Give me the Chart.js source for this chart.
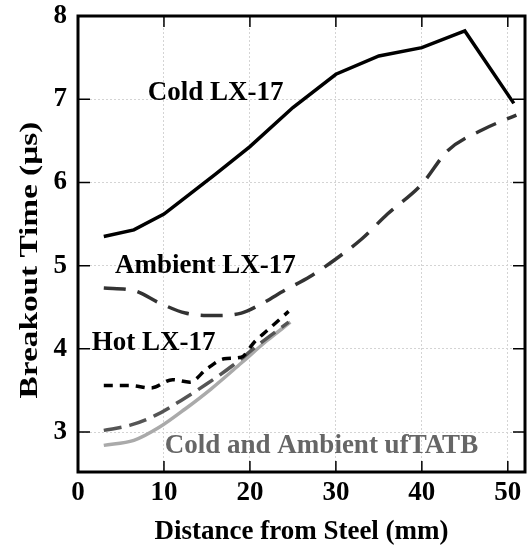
<!DOCTYPE html>
<html lang="en">
  <head>
    <meta charset="UTF-8" />
    <title>Breakout Time</title>
    <script src="https://cdn.jsdelivr.net/npm/chart.js"></script>
    <style>
      * {
        margin: 0;
        padding: 0;
        box-sizing: border-box;
      }
      body {
        background: white;
      }
      #wrap {
        width: 527px;
        height: 548px;
      }
    </style>
  </head>
  <body>
    <div id="wrap">
      <canvas id="breakoutChart" width="527" height="548"></canvas>
    </div>
    <script>
      // values (distance mm, time us)
      const coldLxX = [3, 6.5, 10, 13, 16, 20, 25, 30, 35, 40, 45, 50.7];
      const coldLxY = [5.35, 5.43, 5.62, 5.86, 6.1, 6.43, 6.9, 7.3, 7.52, 7.62, 7.82, 6.95];

      const ambientLxX = [3, 6.5, 9.5, 12.5, 16, 19, 21.5, 24, 27, 30, 33, 36, 40, 43, 47, 51];
      const ambientLxY = [4.73, 4.7, 4.55, 4.43, 4.4, 4.43, 4.55, 4.7, 4.87, 5.08, 5.32, 5.62, 5.98, 6.38, 6.63, 6.81];

      const hotLxX = [3, 6, 8.5, 11, 13, 15, 17, 19, 20.5, 22, 24.5];
      const hotLxY = [3.56, 3.56, 3.53, 3.63, 3.6, 3.76, 3.88, 3.9, 4.08, 4.22, 4.45];

      const ambientTatbX = [3, 6, 9, 12, 15, 18, 21, 24.5];
      const ambientTatbY = [3.02, 3.08, 3.2, 3.38, 3.58, 3.8, 4.05, 4.32];

      const coldTatbX = [3, 6.5, 9.5, 12.5, 15.5, 19, 22, 24.7];
      const coldTatbY = [2.84, 2.9, 3.06, 3.28, 3.52, 3.83, 4.1, 4.32];

      const xTicks = [0, 10, 20, 30, 40, 50];
      const yTicks = [3, 4, 5, 6, 7, 8];

      const yTitle = "Breakout Time (µs)";

      const serif = "'Liberation Serif', 'Times New Roman', serif";

      function pairs(xs, ys) {
        return xs.map((x, i) => ({ x: x, y: ys[i] }));
      }

      // text labels next to the curves
      const curveLabels = [
        { text: "Cold LX-17", x: 8.1, y: 7.08, color: "#000" },
        { text: "Ambient LX-17", x: 4.3, y: 4.99, color: "#000" },
        { text: "Hot LX-17", x: 1.6, y: 4.07, color: "#000" },
        { text: "Cold and Ambient ufTATB", x: 10.1, y: 2.83, color: "#666" },
      ];

      const framePlugin = {
        id: "frame",
        afterDraw(chart) {
          const { ctx, chartArea: a, scales } = chart;
          ctx.save();
          // inward ticks
          ctx.strokeStyle = "#000";
          ctx.lineWidth = 1.5;
          ctx.beginPath();
          scales.x.ticks.forEach((t) => {
            const px = scales.x.getPixelForValue(t.value);
            ctx.moveTo(px, a.bottom);
            ctx.lineTo(px, a.bottom - 11);
            ctx.moveTo(px, a.top);
            ctx.lineTo(px, a.top + 11);
          });
          scales.y.ticks.forEach((t) => {
            const py = scales.y.getPixelForValue(t.value);
            ctx.moveTo(a.left, py);
            ctx.lineTo(a.left + 12, py);
            ctx.moveTo(a.right, py);
            ctx.lineTo(a.right - 12, py);
          });
          ctx.stroke();
          // frame
          ctx.lineWidth = 3;
          ctx.strokeRect(a.left, a.top, a.right - a.left, a.bottom - a.top);

          ctx.font = "bold 27px " + serif;
          ctx.textBaseline = "middle";
          ctx.textAlign = "left";
          curveLabels.forEach((l) => {
            ctx.fillStyle = l.color;
            ctx.fillText(l.text, scales.x.getPixelForValue(l.x), scales.y.getPixelForValue(l.y));
          });

          // y title, stretched along its length like the original
          ctx.fillStyle = "#000";
          ctx.font = "bold 26px " + serif;
          ctx.textAlign = "center";
          ctx.translate(30, (a.top + a.bottom) / 2 + 16);
          ctx.rotate(-Math.PI / 2);
          ctx.scale(1.28, 1);
          ctx.fillText(yTitle, 0, 0);
          ctx.restore();
        },
      };

      const ctx = document.getElementById("breakoutChart").getContext("2d");

      new Chart(ctx, {
        type: "line",
        data: {
          datasets: [
            {
              label: "Cold LX-17",
              data: pairs(coldLxX, coldLxY),
              borderColor: "#000",
              borderWidth: 3.5,
              tension: 0,
            },
            {
              label: "Ambient LX-17",
              data: pairs(ambientLxX, ambientLxY),
              borderColor: "#333",
              borderWidth: 3.5,
              borderDash: [22, 12],
              cubicInterpolationMode: "monotone",
            },
            {
              label: "Hot LX-17",
              data: pairs(hotLxX, hotLxY),
              borderColor: "#000",
              borderWidth: 3.5,
              borderDash: [9, 7],
              cubicInterpolationMode: "monotone",
            },
            {
              label: "Ambient ufTATB",
              data: pairs(ambientTatbX, ambientTatbY),
              borderColor: "#555",
              borderWidth: 3.5,
              borderDash: [18, 8],
              cubicInterpolationMode: "monotone",
            },
            {
              label: "Cold ufTATB",
              data: pairs(coldTatbX, coldTatbY),
              borderColor: "#aaa",
              borderWidth: 3.5,
              cubicInterpolationMode: "monotone",
            },
          ],
        },
        options: {
          responsive: false,
          animation: false,
          layout: {
            padding: { left: 0, right: 2, top: 0, bottom: 0 },
          },
          elements: {
            point: { radius: 0 },
          },
          plugins: {
            legend: { display: false },
            tooltip: { enabled: false },
          },
          scales: {
            x: {
              type: "linear",
              min: 0,
              max: 52,
              afterBuildTicks: (s) => {
                s.ticks = xTicks.map((v) => ({ value: v }));
              },
              afterFit: (s) => {
                s.height = 76;
              },
              grid: { color: "#d4d4d4", lineWidth: 1, drawTicks: false },
              border: { display: false, dash: [2, 2] },
              ticks: {
                color: "#000",
                padding: 5,
                font: { family: serif, size: 27, weight: "bold" },
              },
              title: {
                display: true,
                text: "Distance from Steel (mm)",
                color: "#000",
                padding: { top: 0, bottom: 0 },
                font: { family: serif, size: 27, weight: "bold" },
              },
            },
            y: {
              min: 2.52,
              max: 8,
              afterBuildTicks: (s) => {
                s.ticks = yTicks.map((v) => ({ value: v }));
              },
              afterFit: (s) => {
                s.width = 78;
                s.paddingTop = 16;
                s.paddingBottom = 0;
              },
              grid: { color: "#d4d4d4", lineWidth: 1, drawTicks: false },
              border: { display: false, dash: [2, 2] },
              ticks: {
                color: "#000",
                padding: 11,
                font: { family: serif, size: 27, weight: "bold" },
              },
              title: { display: false },
            },
          },
        },
        plugins: [framePlugin],
      });
    </script>
  </body>
</html>
